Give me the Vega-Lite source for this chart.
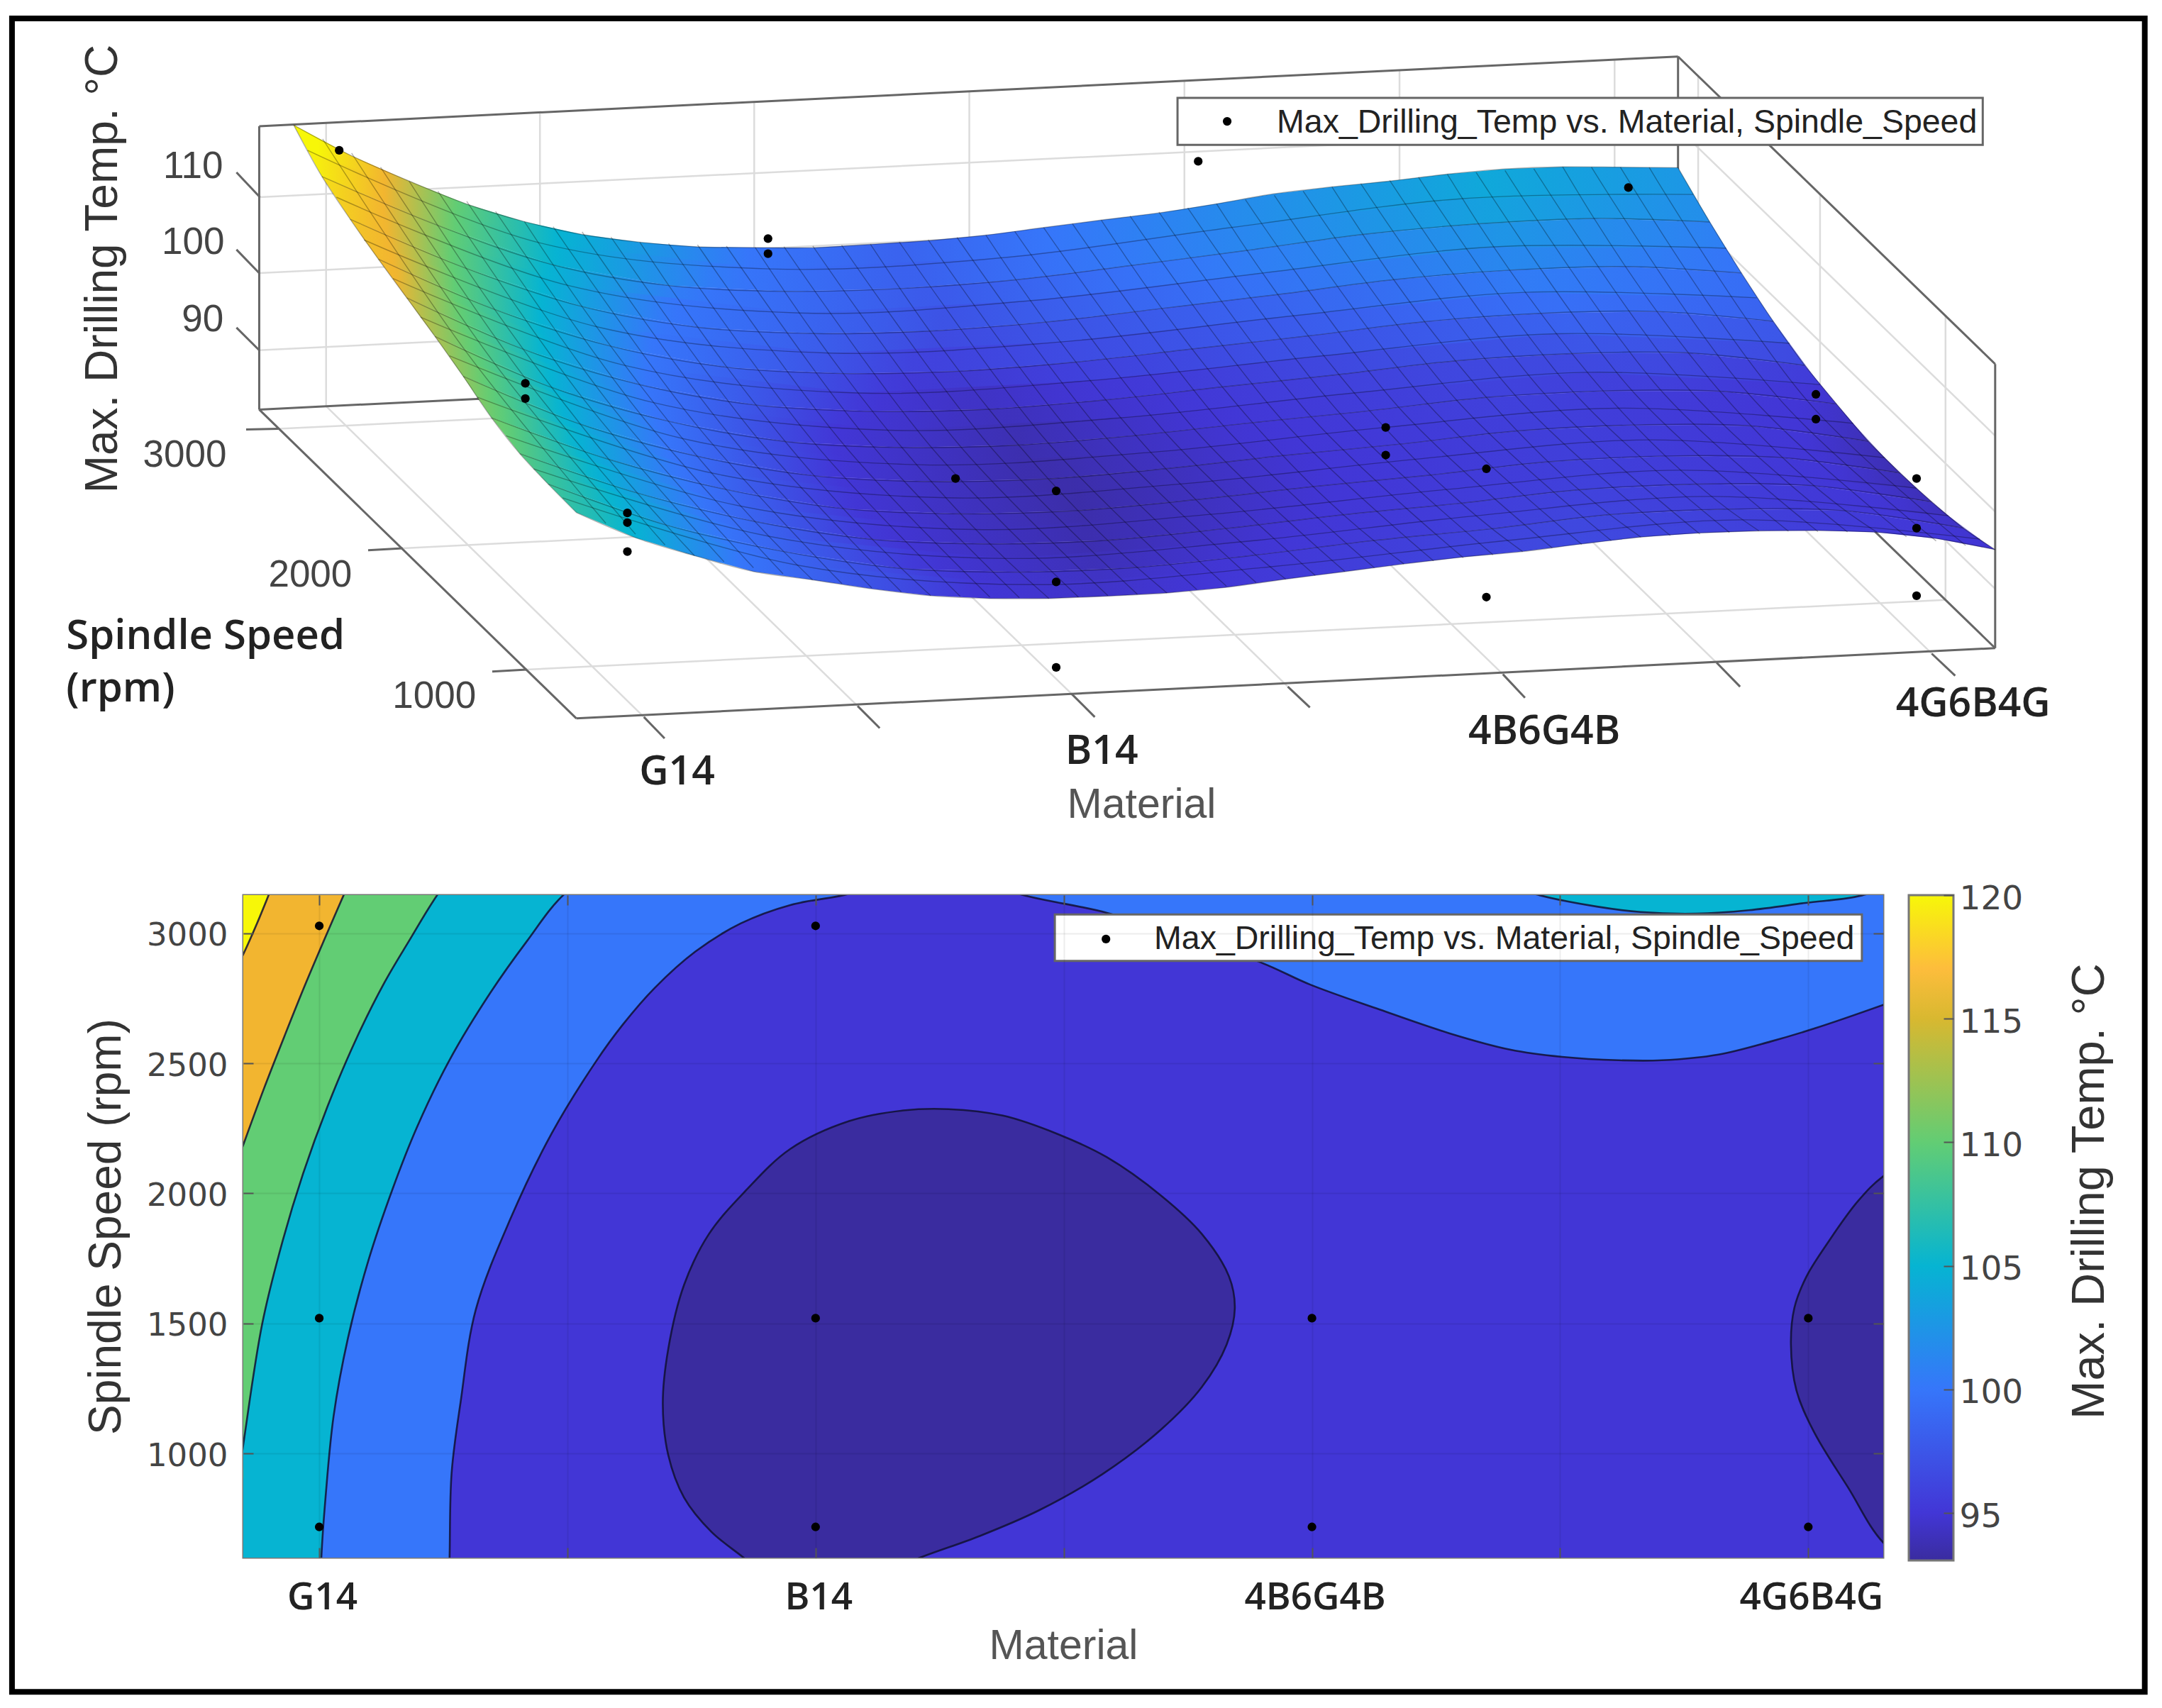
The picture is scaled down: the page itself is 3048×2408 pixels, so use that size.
{"$schema":"https://vega.github.io/schema/vega-lite/v6.json","padding":0,"background":"white","config":{"view":{"stroke":null},"font":"Liberation Sans"},"bounds":"flush","spacing":32,
"datasets":{
"grid":[
{"v":0,"k":0,"x":213,"y":90.7},{"v":0,"k":0.5,"x":255,"y":113},{"v":0,"k":1,"x":296.7,"y":131.3},{"v":0,"k":1.5,"x":338.5,"y":148},{"v":0,"k":2,"x":380.3,"y":160.7},{"v":0,"k":2.5,"x":422,"y":170},{"v":0,"k":3,"x":464,"y":175.6},{"v":0,"k":3.5,"x":506,"y":179},{"v":0,"k":4,"x":547.7,"y":179.5},{"v":0,"k":4.5,"x":589.5,"y":179.6},{"v":0,"k":5,"x":631.3,"y":177.2},{"v":0,"k":5.5,"x":673,"y":174.5},{"v":0,"k":6,"x":715,"y":170.5},{"v":0,"k":6.5,"x":757,"y":165},{"v":0,"k":7,"x":798.7,"y":159.6},{"v":0,"k":7.5,"x":840.5,"y":154.4},{"v":0,"k":8,"x":882.3,"y":147.8},{"v":0,"k":8.5,"x":924,"y":140.5},{"v":0,"k":9,"x":966,"y":135.5},{"v":0,"k":9.5,"x":1008,"y":131.3},{"v":0,"k":10,"x":1049.7,"y":126.3},{"v":0,"k":10.5,"x":1091.5,"y":122.5},{"v":0,"k":11,"x":1133.3,"y":121},{"v":0,"k":11.5,"x":1175,"y":121.2},{"v":0,"k":12,"x":1217,"y":121.6},
{"v":0.1,"k":0,"x":233.5,"y":128},{"v":0.1,"k":1,"x":317.4,"y":163.4},{"v":0.1,"k":2,"x":401.2,"y":192.1},{"v":0.1,"k":3,"x":485.1,"y":207.1},{"v":0.1,"k":4,"x":569,"y":211.3},{"v":0.1,"k":5,"x":652.8,"y":209.3},{"v":0.1,"k":6,"x":736.8,"y":202.9},{"v":0.1,"k":7,"x":820.7,"y":192.5},{"v":0.1,"k":8,"x":904.5,"y":181.6},{"v":0.1,"k":9,"x":988.4,"y":170},{"v":0.1,"k":10,"x":1072.3,"y":162.3},{"v":0.1,"k":11,"x":1156.1,"y":158.4},{"v":0.1,"k":12,"x":1240,"y":161},
{"v":0.2,"k":0,"x":254,"y":159},{"v":0.2,"k":1,"x":338.1,"y":194.6},{"v":0.2,"k":2,"x":422.1,"y":222.3},{"v":0.2,"k":3,"x":506.2,"y":237.4},{"v":0.2,"k":4,"x":590.3,"y":241.9},{"v":0.2,"k":5,"x":674.3,"y":240.1},{"v":0.2,"k":6,"x":758.5,"y":233.6},{"v":0.2,"k":7,"x":842.6,"y":223.7},{"v":0.2,"k":8,"x":926.7,"y":213.6},{"v":0.2,"k":9,"x":1010.8,"y":202.8},{"v":0.2,"k":10,"x":1094.9,"y":195.9},{"v":0.2,"k":11,"x":1178.9,"y":193.3},{"v":0.2,"k":12,"x":1263,"y":198},
{"v":0.3,"k":0,"x":274.5,"y":188},{"v":0.3,"k":1,"x":358.8,"y":224.5},{"v":0.3,"k":2,"x":443,"y":251.1},{"v":0.3,"k":3,"x":527.3,"y":266.4},{"v":0.3,"k":4,"x":611.6,"y":270.9},{"v":0.3,"k":5,"x":695.8,"y":269.2},{"v":0.3,"k":6,"x":780.3,"y":262.6},{"v":0.3,"k":7,"x":864.6,"y":253.1},{"v":0.3,"k":8,"x":948.9,"y":243.6},{"v":0.3,"k":9,"x":1033.2,"y":233.3},{"v":0.3,"k":10,"x":1117.5,"y":227.2},{"v":0.3,"k":11,"x":1201.7,"y":225.9},{"v":0.3,"k":12,"x":1286,"y":233},
{"v":0.4,"k":0,"x":295,"y":216},{"v":0.4,"k":1,"x":379.5,"y":253.3},{"v":0.4,"k":2,"x":463.9,"y":278.9},{"v":0.4,"k":3,"x":548.4,"y":293.8},{"v":0.4,"k":4,"x":632.9,"y":298.4},{"v":0.4,"k":5,"x":717.3,"y":296.8},{"v":0.4,"k":6,"x":802,"y":290},{"v":0.4,"k":7,"x":886.5,"y":280.6},{"v":0.4,"k":8,"x":971.1,"y":271.6},{"v":0.4,"k":9,"x":1055.6,"y":261.7},{"v":0.4,"k":10,"x":1140.1,"y":256.4},{"v":0.4,"k":11,"x":1224.5,"y":255.9},{"v":0.4,"k":12,"x":1309,"y":265},
{"v":0.5,"k":0,"x":315.5,"y":244},{"v":0.5,"k":1,"x":400.2,"y":281},{"v":0.5,"k":2,"x":484.8,"y":305.5},{"v":0.5,"k":3,"x":569.5,"y":320.2},{"v":0.5,"k":4,"x":654.2,"y":324.6},{"v":0.5,"k":5,"x":738.8,"y":322.8},{"v":0.5,"k":6,"x":823.8,"y":315.8},{"v":0.5,"k":7,"x":908.5,"y":306.5},{"v":0.5,"k":8,"x":993.3,"y":297.9},{"v":0.5,"k":9,"x":1078,"y":288.2},{"v":0.5,"k":10,"x":1162.7,"y":283.5},{"v":0.5,"k":11,"x":1247.3,"y":283.7},{"v":0.5,"k":12,"x":1332,"y":293},
{"v":0.6,"k":0,"x":336,"y":273},{"v":0.6,"k":1,"x":420.9,"y":307.6},{"v":0.6,"k":2,"x":505.7,"y":330.9},{"v":0.6,"k":3,"x":590.6,"y":345.1},{"v":0.6,"k":4,"x":675.5,"y":349.3},{"v":0.6,"k":5,"x":760.3,"y":347.3},{"v":0.6,"k":6,"x":845.5,"y":339.9},{"v":0.6,"k":7,"x":930.4,"y":330.4},{"v":0.6,"k":8,"x":1015.5,"y":322.1},{"v":0.6,"k":9,"x":1100.4,"y":312.5},{"v":0.6,"k":10,"x":1185.3,"y":308.2},{"v":0.6,"k":11,"x":1270.1,"y":308.9},{"v":0.6,"k":12,"x":1355,"y":320},
{"v":0.7,"k":0,"x":356.5,"y":303},{"v":0.7,"k":1,"x":441.6,"y":333.2},{"v":0.7,"k":2,"x":526.6,"y":355},{"v":0.7,"k":3,"x":611.7,"y":368.9},{"v":0.7,"k":4,"x":696.8,"y":372.7},{"v":0.7,"k":5,"x":781.8,"y":370.3},{"v":0.7,"k":6,"x":867.3,"y":362.4},{"v":0.7,"k":7,"x":952.4,"y":352.9},{"v":0.7,"k":8,"x":1037.7,"y":344.5},{"v":0.7,"k":9,"x":1122.8,"y":334.9},{"v":0.7,"k":10,"x":1207.9,"y":330.7},{"v":0.7,"k":11,"x":1292.9,"y":331.9},{"v":0.7,"k":12,"x":1378,"y":343},
{"v":0.8,"k":0,"x":377,"y":329},{"v":0.8,"k":1,"x":462.3,"y":357.6},{"v":0.8,"k":2,"x":547.5,"y":378.2},{"v":0.8,"k":3,"x":632.8,"y":391.2},{"v":0.8,"k":4,"x":718.1,"y":394.5},{"v":0.8,"k":5,"x":803.3,"y":391.8},{"v":0.8,"k":6,"x":889,"y":383.3},{"v":0.8,"k":7,"x":974.3,"y":373.3},{"v":0.8,"k":8,"x":1059.9,"y":364.9},{"v":0.8,"k":9,"x":1145.2,"y":355.2},{"v":0.8,"k":10,"x":1230.5,"y":351.1},{"v":0.8,"k":11,"x":1315.7,"y":352.3},{"v":0.8,"k":12,"x":1401,"y":364},
{"v":0.9,"k":0,"x":397.5,"y":351},{"v":0.9,"k":1,"x":483,"y":380.7},{"v":0.9,"k":2,"x":568.4,"y":400},{"v":0.9,"k":3,"x":653.9,"y":412.3},{"v":0.9,"k":4,"x":739.4,"y":414.9},{"v":0.9,"k":5,"x":824.8,"y":411.5},{"v":0.9,"k":6,"x":910.8,"y":402.5},{"v":0.9,"k":7,"x":996.3,"y":392},{"v":0.9,"k":8,"x":1082.1,"y":383.4},{"v":0.9,"k":9,"x":1167.6,"y":373.2},{"v":0.9,"k":10,"x":1253.1,"y":369.2},{"v":0.9,"k":11,"x":1338.5,"y":370.4},{"v":0.9,"k":12,"x":1424,"y":383},
{"v":1,"k":0,"x":418,"y":371.7},{"v":1,"k":0.5,"x":461,"y":390},{"v":1,"k":1,"x":503.7,"y":403},{"v":1,"k":1.5,"x":546.5,"y":414.5},{"v":1,"k":2,"x":589.3,"y":420.5},{"v":1,"k":2.5,"x":632,"y":427},{"v":1,"k":3,"x":675,"y":432},{"v":1,"k":3.5,"x":718,"y":434},{"v":1,"k":4,"x":760.7,"y":434},{"v":1,"k":4.5,"x":803.5,"y":432.3},{"v":1,"k":5,"x":846.3,"y":430},{"v":1,"k":5.5,"x":889,"y":426},{"v":1,"k":6,"x":932.5,"y":420},{"v":1,"k":6.5,"x":975,"y":414.6},{"v":1,"k":7,"x":1018.2,"y":409},{"v":1,"k":7.5,"x":1061,"y":404},{"v":1,"k":8,"x":1104.3,"y":400},{"v":1,"k":8.5,"x":1147,"y":394.5},{"v":1,"k":9,"x":1190,"y":389.5},{"v":1,"k":9.5,"x":1233,"y":386.5},{"v":1,"k":10,"x":1275.7,"y":385},{"v":1,"k":10.5,"x":1318.5,"y":384.8},{"v":1,"k":11,"x":1361.3,"y":386},{"v":1,"k":11.5,"x":1404,"y":390.5},{"v":1,"k":12,"x":1447,"y":398.6}],
"meshRows":[
{"r":0.05,"x":223,"y":109},{"r":0.05,"x":391,"y":176},{"r":0.05,"x":558,"y":195},{"r":0.05,"x":726,"y":187},{"r":0.05,"x":893,"y":165},{"r":0.05,"x":1061,"y":144},{"r":0.05,"x":1228,"y":141},
{"r":0.15,"x":244,"y":143},{"r":0.15,"x":412,"y":207},{"r":0.15,"x":580,"y":227},{"r":0.15,"x":748,"y":218},{"r":0.15,"x":916,"y":198},{"r":0.15,"x":1084,"y":179},{"r":0.15,"x":1252,"y":180},
{"r":0.25,"x":264,"y":174},{"r":0.25,"x":433,"y":237},{"r":0.25,"x":601,"y":256},{"r":0.25,"x":769,"y":248},{"r":0.25,"x":938,"y":229},{"r":0.25,"x":1106,"y":212},{"r":0.25,"x":1274,"y":216},
{"r":0.35,"x":285,"y":202},{"r":0.35,"x":453,"y":265},{"r":0.35,"x":622,"y":285},{"r":0.35,"x":791,"y":276},{"r":0.35,"x":960,"y":258},{"r":0.35,"x":1129,"y":242},{"r":0.35,"x":1298,"y":249},
{"r":0.45,"x":305,"y":230},{"r":0.45,"x":474,"y":292},{"r":0.45,"x":644,"y":312},{"r":0.45,"x":813,"y":303},{"r":0.45,"x":982,"y":285},{"r":0.45,"x":1151,"y":270},{"r":0.45,"x":1320,"y":279},
{"r":0.55,"x":326,"y":258},{"r":0.55,"x":495,"y":318},{"r":0.55,"x":665,"y":337},{"r":0.55,"x":835,"y":328},{"r":0.55,"x":1004,"y":310},{"r":0.55,"x":1174,"y":296},{"r":0.55,"x":1344,"y":307},
{"r":0.65,"x":346,"y":288},{"r":0.65,"x":516,"y":343},{"r":0.65,"x":686,"y":361},{"r":0.65,"x":856,"y":351},{"r":0.65,"x":1027,"y":333},{"r":0.65,"x":1197,"y":319},{"r":0.65,"x":1367,"y":332},
{"r":0.75,"x":367,"y":316},{"r":0.75,"x":537,"y":367},{"r":0.75,"x":707,"y":384},{"r":0.75,"x":878,"y":373},{"r":0.75,"x":1049,"y":355},{"r":0.75,"x":1219,"y":341},{"r":0.75,"x":1390,"y":354},
{"r":0.85,"x":387,"y":340},{"r":0.85,"x":558,"y":389},{"r":0.85,"x":729,"y":405},{"r":0.85,"x":900,"y":393},{"r":0.85,"x":1071,"y":374},{"r":0.85,"x":1242,"y":360},{"r":0.85,"x":1413,"y":374},
{"r":0.95,"x":408,"y":361},{"r":0.95,"x":579,"y":410},{"r":0.95,"x":750,"y":424},{"r":0.95,"x":922,"y":411},{"r":0.95,"x":1093,"y":392},{"r":0.95,"x":1264,"y":377},{"r":0.95,"x":1436,"y":391}],
"meshCols":[
{"c":1,"x":234,"y":100.8},{"c":1,"x":336.7,"y":253.3},{"c":1,"x":439.4,"y":379.5},{"c":2,"x":255,"y":111},{"c":2,"x":357.9,"y":262.5},{"c":2,"x":460.9,"y":387.4},{"c":3,"x":276,"y":121.2},{"c":3,"x":379,"y":271.8},{"c":3,"x":482.3,"y":395.2},
{"c":4,"x":317.6,"y":138.7},{"c":4,"x":421.4,"y":287.1},{"c":4,"x":525.1,"y":407.4},{"c":5,"x":338.5,"y":146},{"c":5,"x":442.5,"y":293.3},{"c":5,"x":546.5,"y":411.8},{"c":6,"x":359.4,"y":153.4},{"c":6,"x":463.7,"y":299.4},{"c":6,"x":567.9,"y":416.1},
{"c":7,"x":401.2,"y":164.4},{"c":7,"x":506,"y":309.2},{"c":7,"x":610.7,"y":423.4},{"c":8,"x":422.2,"y":168.2},{"c":8,"x":527.2,"y":312.9},{"c":8,"x":632.2,"y":426.3},{"c":9,"x":443.1,"y":171.9},{"c":9,"x":548.3,"y":316.5},{"c":9,"x":653.6,"y":429.1},
{"c":10,"x":484.9,"y":176.6},{"c":10,"x":590.7,"y":321.3},{"c":10,"x":696.4,"y":432.5},{"c":11,"x":505.9,"y":177.6},{"c":11,"x":611.9,"y":322.4},{"c":11,"x":717.9,"y":433},{"c":12,"x":526.8,"y":178.5},{"c":12,"x":633,"y":323.5},{"c":12,"x":739.3,"y":433.5},
{"c":13,"x":568.6,"y":178.9},{"c":13,"x":675.3,"y":324.2},{"c":13,"x":782.1,"y":433},{"c":14,"x":589.5,"y":178.4},{"c":14,"x":696.5,"y":323.7},{"c":14,"x":803.5,"y":432},{"c":15,"x":610.4,"y":177.8},{"c":15,"x":717.7,"y":323.3},{"c":15,"x":824.9,"y":431},
{"c":16,"x":652.2,"y":175.5},{"c":16,"x":760,"y":321},{"c":16,"x":867.9,"y":427.5},{"c":17,"x":673.2,"y":173.9},{"c":17,"x":781.3,"y":319.3},{"c":17,"x":889.4,"y":425},{"c":18,"x":694.1,"y":172.2},{"c":18,"x":802.5,"y":317.6},{"c":18,"x":911,"y":422.5},
{"c":19,"x":735.9,"y":167.8},{"c":19,"x":845,"y":313.5},{"c":19,"x":953.9,"y":417.3},{"c":20,"x":756.9,"y":165.1},{"c":20,"x":866.2,"y":311.2},{"c":20,"x":975.4,"y":414.5},{"c":21,"x":777.8,"y":162.3},{"c":21,"x":887.3,"y":308.8},{"c":21,"x":996.8,"y":411.8},
{"c":22,"x":819.6,"y":156.7},{"c":22,"x":929.7,"y":304.4},{"c":22,"x":1039.7,"y":406.8},{"c":23,"x":840.5,"y":153.7},{"c":23,"x":950.9,"y":302.2},{"c":23,"x":1061.3,"y":404.5},{"c":24,"x":861.4,"y":150.8},{"c":24,"x":972.1,"y":300.1},{"c":24,"x":1082.8,"y":402.3},
{"c":25,"x":903.2,"y":144.7},{"c":25,"x":1014.5,"y":295.5},{"c":25,"x":1125.8,"y":397.4},{"c":26,"x":924.2,"y":141.7},{"c":26,"x":1035.7,"y":293.1},{"c":26,"x":1147.2,"y":394.8},{"c":27,"x":945.1,"y":138.6},{"c":27,"x":1056.8,"y":290.6},{"c":27,"x":1168.6,"y":392.1},
{"c":28,"x":986.9,"y":133.2},{"c":28,"x":1099.2,"y":287},{"c":28,"x":1211.4,"y":388.4},{"c":29,"x":1007.9,"y":130.9},{"c":29,"x":1120.4,"y":285.9},{"c":29,"x":1232.9,"y":387.3},{"c":30,"x":1028.8,"y":128.6},{"c":30,"x":1141.5,"y":284.7},{"c":30,"x":1254.3,"y":386.1},
{"c":31,"x":1070.6,"y":125},{"c":31,"x":1183.9,"y":283.6},{"c":31,"x":1297.1,"y":385.3},{"c":32,"x":1091.5,"y":123.7},{"c":32,"x":1205,"y":283.6},{"c":32,"x":1318.5,"y":385.5},{"c":33,"x":1112.4,"y":122.3},{"c":33,"x":1226.2,"y":283.7},{"c":33,"x":1339.9,"y":385.8},
{"c":34,"x":1154.2,"y":121.2},{"c":34,"x":1268.5,"y":286},{"c":34,"x":1382.7,"y":389.2},{"c":35,"x":1175.2,"y":121.3},{"c":35,"x":1289.7,"y":288.4},{"c":35,"x":1404.2,"y":392.3},{"c":36,"x":1196.1,"y":121.5},{"c":36,"x":1310.8,"y":290.7},{"c":36,"x":1425.6,"y":395.5}],
"contours":[
{"id":"a","level":95,"c":1,"m":0,"s":0},{"id":"a","level":95,"c":1,"m":5,"s":0},{"id":"a","level":95,"c":1,"m":5,"s":4000},{"id":"a","level":95,"c":1,"m":0,"s":4000},
{"id":"b","level":100,"c":1,"m":0.5,"s":300},{"id":"b","level":100,"m":1.26,"s":400},{"id":"b","level":100,"m":1.2626,"s":600},{"id":"b","level":100,"m":1.2667,"s":925},{"id":"b","level":100,"m":1.285,"s":1200},{"id":"b","level":100,"m":1.3153,"s":1552},{"id":"b","level":100,"m":1.3847,"s":1900},{"id":"b","level":100,"m":1.4681,"s":2230},{"id":"b","level":100,"m":1.5574,"s":2507},{"id":"b","level":100,"m":1.612,"s":2650},{"id":"b","level":100,"m":1.6758,"s":2790},{"id":"b","level":100,"m":1.7578,"s":2930},{"id":"b","level":100,"m":1.849,"s":3038},{"id":"b","level":100,"m":1.9491,"s":3109},{"id":"b","level":100,"m":2.0585,"s":3148},{"id":"b","level":100,"m":2.2,"s":3220},{"id":"b","level":100,"c":1,"m":0.5,"s":3400},
{"id":"c","level":100,"m":2.25,"s":3240},{"id":"c","level":100,"m":2.423,"s":3145},{"id":"c","level":100,"m":2.587,"s":3079},{"id":"c","level":100,"m":2.74,"s":2985},{"id":"c","level":100,"m":2.896,"s":2889},{"id":"c","level":100,"m":2.9965,"s":2803},{"id":"c","level":100,"m":3.1365,"s":2707},{"id":"c","level":100,"m":3.2765,"s":2616},{"id":"c","level":100,"m":3.399,"s":2553},{"id":"c","level":100,"m":3.504,"s":2525},{"id":"c","level":100,"m":3.618,"s":2512},{"id":"c","level":100,"m":3.705,"s":2512},{"id":"c","level":100,"m":3.819,"s":2534},{"id":"c","level":100,"m":3.924,"s":2584},{"id":"c","level":100,"m":4.012,"s":2634},{"id":"c","level":100,"m":4.151,"s":2725},{"id":"c","level":100,"m":4.3,"s":2830},{"id":"c","level":100,"c":1,"m":4.5,"s":3400},{"id":"c","level":100,"c":1,"m":2.25,"s":3400},
{"id":"d","level":105,"c":1,"m":0.5,"s":300},{"id":"d","level":105,"m":1.002,"s":400},{"id":"d","level":105,"m":1.0043,"s":600},{"id":"d","level":105,"m":1.0125,"s":826},{"id":"d","level":105,"m":1.0289,"s":1143},{"id":"d","level":105,"m":1.0576,"s":1441},{"id":"d","level":105,"m":1.0986,"s":1739},{"id":"d","level":105,"m":1.1478,"s":2017},{"id":"d","level":105,"m":1.197,"s":2255},{"id":"d","level":105,"m":1.2626,"s":2513},{"id":"d","level":105,"m":1.3446,"s":2771},{"id":"d","level":105,"m":1.4184,"s":2970},{"id":"d","level":105,"m":1.4922,"s":3148},{"id":"d","level":105,"m":1.6,"s":3290},{"id":"d","level":105,"c":1,"m":0.5,"s":3400},
{"id":"e","level":110,"c":1,"m":0.5,"s":500},{"id":"e","level":110,"m":0.83,"s":800},{"id":"e","level":110,"m":0.8485,"s":1054},{"id":"e","level":110,"m":0.8854,"s":1501},{"id":"e","level":110,"m":0.9264,"s":1818},{"id":"e","level":110,"m":0.9674,"s":2076},{"id":"e","level":110,"m":1.0166,"s":2334},{"id":"e","level":110,"m":1.074,"s":2592},{"id":"e","level":110,"m":1.1314,"s":2811},{"id":"e","level":110,"m":1.1806,"s":2970},{"id":"e","level":110,"m":1.238,"s":3148},{"id":"e","level":110,"m":1.3,"s":3300},{"id":"e","level":110,"c":1,"m":0.5,"s":3400},
{"id":"f","level":115,"c":1,"m":0.5,"s":1800},{"id":"f","level":115,"m":0.81,"s":1990},{"id":"f","level":115,"m":0.8485,"s":2195},{"id":"f","level":115,"m":0.89,"s":2410},{"id":"f","level":115,"m":0.93,"s":2605},{"id":"f","level":115,"m":0.97,"s":2795},{"id":"f","level":115,"m":1.01,"s":2975},{"id":"f","level":115,"m":1.0494,"s":3148},{"id":"f","level":115,"m":1.09,"s":3320},{"id":"f","level":115,"c":1,"m":0.5,"s":3400},
{"id":"g","level":120,"c":1,"m":0.5,"s":2500},{"id":"g","level":120,"m":0.82,"s":2820},{"id":"g","level":120,"m":0.847,"s":2920},{"id":"g","level":120,"m":0.875,"s":3040},{"id":"g","level":120,"m":0.898,"s":3147},{"id":"g","level":120,"m":0.93,"s":3300},{"id":"g","level":120,"c":1,"m":0.5,"s":3400},
{"id":"h","level":105,"m":3.3,"s":3240},{"id":"h","level":105,"m":3.46,"s":3146},{"id":"h","level":105,"m":3.574,"s":3103},{"id":"h","level":105,"m":3.662,"s":3082},{"id":"h","level":105,"m":3.775,"s":3076},{"id":"h","level":105,"m":3.88,"s":3089},{"id":"h","level":105,"m":3.994,"s":3117},{"id":"h","level":105,"m":4.108,"s":3146},{"id":"h","level":105,"m":4.25,"s":3240},
{"id":"i","level":93,"m":1.92,"s":500},{"id":"i","level":93,"m":1.8535,"s":601},{"id":"i","level":93,"m":1.7897,"s":699},{"id":"i","level":93,"m":1.735,"s":830},{"id":"i","level":93,"m":1.7032,"s":993},{"id":"i","level":93,"m":1.6922,"s":1190},{"id":"i","level":93,"m":1.7032,"s":1402},{"id":"i","level":93,"m":1.735,"s":1648},{"id":"i","level":93,"m":1.7852,"s":1844},{"id":"i","level":93,"m":1.858,"s":2008},{"id":"i","level":93,"m":1.9491,"s":2171},{"id":"i","level":93,"m":2.0676,"s":2278},{"id":"i","level":93,"m":2.1769,"s":2319},{"id":"i","level":93,"m":2.268,"s":2324},{"id":"i","level":93,"m":2.3773,"s":2299},{"id":"i","level":93,"m":2.4866,"s":2229},{"id":"i","level":93,"m":2.5868,"s":2139},{"id":"i","level":93,"m":2.6962,"s":1991},{"id":"i","level":93,"m":2.7781,"s":1844},{"id":"i","level":93,"m":2.8328,"s":1681},{"id":"i","level":93,"m":2.8446,"s":1558},{"id":"i","level":93,"m":2.8282,"s":1419},{"id":"i","level":93,"m":2.7781,"s":1255},{"id":"i","level":93,"m":2.6962,"s":1092},{"id":"i","level":93,"m":2.5778,"s":920},{"id":"i","level":93,"m":2.4502,"s":781},{"id":"i","level":93,"m":2.3318,"s":683},{"id":"i","level":93,"m":2.2133,"s":601},{"id":"i","level":93,"m":2.08,"s":500},
{"id":"j","level":93,"m":4.25,"s":2170},{"id":"j","level":93,"m":4.151,"s":2066},{"id":"j","level":93,"m":4.1,"s":1970},{"id":"j","level":93,"m":4.042,"s":1818},{"id":"j","level":93,"m":3.996,"s":1679},{"id":"j","level":93,"m":3.972,"s":1560},{"id":"j","level":93,"m":3.965,"s":1421},{"id":"j","level":93,"m":3.976,"s":1243},{"id":"j","level":93,"m":4.011,"s":1084},{"id":"j","level":93,"m":4.081,"s":866},{"id":"j","level":93,"m":4.151,"s":657},{"id":"j","level":93,"m":4.25,"s":520}]
},
"vconcat":[
{"width":3048,"height":1230,
"encoding":{"x":{"field":"x","type":"quantitative","axis":null,"scale":{"domain":[0,1568],"nice":false,"zero":false}},"y":{"field":"y","type":"quantitative","axis":null,"scale":{"domain":[632.7,0],"nice":false,"zero":false}}},
"layer":[
{"data":{"values":[
{"x":236.5,"y":89.1,"x2":236.5,"y2":294.6},{"x":391.6,"y":81.5,"x2":391.6,"y2":287.1},{"x":547,"y":73.9,"x2":547,"y2":279.6},{"x":703,"y":66.2,"x2":703,"y2":272},{"x":859,"y":58.6,"x2":859,"y2":264.4},{"x":1015,"y":50.9,"x2":1015,"y2":256.8},{"x":1171,"y":43.2,"x2":1171,"y2":249.2},
{"x":188,"y":143,"x2":1217,"y2":93},{"x":188,"y":198,"x2":1217,"y2":148},{"x":188,"y":254,"x2":1217,"y2":204},
{"x":1231.6,"y":55,"x2":1231.6,"y2":261},{"x":1320,"y":141,"x2":1320,"y2":347},{"x":1411,"y":229,"x2":1411,"y2":435},
{"x":1217,"y":93,"x2":1447,"y2":316},{"x":1217,"y":148,"x2":1447,"y2":371},{"x":1217,"y":204,"x2":1447,"y2":427},
{"x":236.5,"y":294.6,"x2":467,"y2":520},{"x":391.6,"y":287.1,"x2":622,"y2":512},{"x":547,"y":279.6,"x2":777,"y2":503},{"x":703,"y":272,"x2":934,"y2":498},{"x":859,"y":264.4,"x2":1090,"y2":489},{"x":1015,"y":256.8,"x2":1245,"y2":480.6},{"x":1171,"y":249.2,"x2":1401,"y2":474},
{"x":202,"y":311,"x2":1231.6,"y2":261},{"x":292,"y":397.6,"x2":1320,"y2":347},{"x":382,"y":485.6,"x2":1411,"y2":435}]},
"mark":{"type":"rule","stroke":"#dcdcdc","strokeWidth":2.5},"encoding":{"x2":{"field":"x2"},"y2":{"field":"y2"}}},
{"data":{"values":[
{"x":188,"y":91.5,"x2":1217,"y2":41},{"x":188,"y":91.5,"x2":188,"y2":297},{"x":188,"y":297,"x2":1217,"y2":247},{"x":1217,"y":41,"x2":1217,"y2":247},{"x":1217,"y":41,"x2":1447,"y2":264},{"x":1447,"y":264,"x2":1447,"y2":470},{"x":1447,"y":470,"x2":418,"y2":521},{"x":188,"y":297,"x2":418,"y2":521},{"x":1217,"y":247,"x2":1447,"y2":470},
{"x":171.5,"y":125,"x2":188.5,"y2":143},{"x":171.5,"y":181,"x2":188,"y2":198},{"x":171.5,"y":237.6,"x2":188,"y2":254},
{"x":178.5,"y":311.5,"x2":202,"y2":311},{"x":267,"y":399,"x2":292,"y2":397.6},{"x":357,"y":487,"x2":382,"y2":485.6},
{"x":467,"y":520,"x2":482,"y2":535.5},{"x":622,"y":512,"x2":638,"y2":528},{"x":777,"y":503,"x2":794,"y2":520},{"x":934,"y":498,"x2":950,"y2":513},{"x":1090,"y":489,"x2":1106,"y2":506},{"x":1245,"y":480.6,"x2":1262,"y2":498},{"x":1401,"y":474,"x2":1418,"y2":490}]},
"mark":{"type":"rule","stroke":"#666666","strokeWidth":3},"encoding":{"x2":{"field":"x2"},"y2":{"field":"y2"}}},
{"data":{"name":"grid"},"transform":[{"filter":"datum.v==0||datum.v==0.1"},{"calculate":"datum.v==0?datum.k:100-datum.k","as":"o"}],"mark":{"type":"line","stroke":null,"fill":{"gradient":"linear","x1":0,"y1":0,"x2":1,"y2":0,"stops":[{"offset":0,"color":"#f7f708"},{"offset":0.0168,"color":"#f7f708"},{"offset":0.0643,"color":"#f2b530"},{"offset":0.1147,"color":"#62cd74"},{"offset":0.1859,"color":"#06b4d2"},{"offset":0.3208,"color":"#3676fa"},{"offset":0.4261,"color":"#3a63ef"},{"offset":0.5329,"color":"#3676fa"},{"offset":0.8414,"color":"#10a8da"},{"offset":1,"color":"#1e95e6"}]}},"encoding":{"order":{"field":"o"}}},
{"data":{"name":"grid"},"transform":[{"filter":"datum.v==0.1||datum.v==0.2"},{"calculate":"datum.v==0.1?datum.k:100-datum.k","as":"o"}],"mark":{"type":"line","stroke":null,"fill":{"gradient":"linear","x1":0,"y1":0,"x2":1,"y2":0,"stops":[{"offset":0,"color":"#f5dd18"},{"offset":0.0435,"color":"#f2b530"},{"offset":0.0907,"color":"#62cd74"},{"offset":0.1562,"color":"#06b4d2"},{"offset":0.2502,"color":"#3676fa"},{"offset":0.441,"color":"#3c56e8"},{"offset":0.6278,"color":"#3676fa"},{"offset":0.8414,"color":"#238fea"},{"offset":1,"color":"#3578f9"}]}},"encoding":{"order":{"field":"o"}}},
{"data":{"name":"grid"},"transform":[{"filter":"datum.v==0.2||datum.v==0.3"},{"calculate":"datum.v==0.2?datum.k:100-datum.k","as":"o"}],"mark":{"type":"line","stroke":null,"fill":{"gradient":"linear","x1":0,"y1":0,"x2":1,"y2":0,"stops":[{"offset":0,"color":"#f3c626"},{"offset":0.0287,"color":"#f2b530"},{"offset":0.072,"color":"#62cd74"},{"offset":0.1328,"color":"#06b4d2"},{"offset":0.2135,"color":"#3676fa"},{"offset":0.4113,"color":"#4045de"},{"offset":0.6486,"color":"#3b5cec"},{"offset":0.8414,"color":"#3676fa"},{"offset":1,"color":"#3869f3"}]}},"encoding":{"order":{"field":"o"}}},
{"data":{"name":"grid"},"transform":[{"filter":"datum.v==0.3||datum.v==0.4"},{"calculate":"datum.v==0.3?datum.k:100-datum.k","as":"o"}],"mark":{"type":"line","stroke":null,"fill":{"gradient":"linear","x1":0,"y1":0,"x2":1,"y2":0,"stops":[{"offset":0,"color":"#f2bc2c"},{"offset":0.0139,"color":"#f2b530"},{"offset":0.0554,"color":"#62cd74"},{"offset":0.1138,"color":"#06b4d2"},{"offset":0.188,"color":"#3676fa"},{"offset":0.3532,"color":"#4236d6"},{"offset":0.4113,"color":"#4034c8"},{"offset":0.4757,"color":"#4236d6"},{"offset":0.7079,"color":"#3d50e4"},{"offset":0.8414,"color":"#3b5cec"},{"offset":1,"color":"#3d50e4"}]}},"encoding":{"order":{"field":"o"}}},
{"data":{"name":"grid"},"transform":[{"filter":"datum.v==0.4||datum.v==0.5"},{"calculate":"datum.v==0.4?datum.k:100-datum.k","as":"o"}],"mark":{"type":"line","stroke":null,"fill":{"gradient":"linear","x1":0,"y1":0,"x2":1,"y2":0,"stops":[{"offset":0,"color":"#d5ba3e"},{"offset":0.042,"color":"#62cd74"},{"offset":0.0984,"color":"#06b4d2"},{"offset":0.1675,"color":"#3676fa"},{"offset":0.3016,"color":"#4236d6"},{"offset":0.4261,"color":"#3d30b5"},{"offset":0.5507,"color":"#4236d6"},{"offset":0.7376,"color":"#4043dd"},{"offset":0.8859,"color":"#4043dd"},{"offset":0.9778,"color":"#4236d6"},{"offset":1,"color":"#4135d0"}]}},"encoding":{"order":{"field":"o"}}},
{"data":{"name":"grid"},"transform":[{"filter":"datum.v==0.5||datum.v==0.6"},{"calculate":"datum.v==0.5?datum.k:100-datum.k","as":"o"}],"mark":{"type":"line","stroke":null,"fill":{"gradient":"linear","x1":0,"y1":0,"x2":1,"y2":0,"stops":[{"offset":0,"color":"#b6bf4d"},{"offset":0.0308,"color":"#62cd74"},{"offset":0.0847,"color":"#06b4d2"},{"offset":0.1583,"color":"#3676fa"},{"offset":0.279,"color":"#4236d6"},{"offset":0.4113,"color":"#3c2ead"},{"offset":0.5893,"color":"#4236d6"},{"offset":0.7672,"color":"#4040db"},{"offset":0.9505,"color":"#4236d6"},{"offset":1,"color":"#3d30b8"}]}},"encoding":{"order":{"field":"o"}}},
{"data":{"name":"grid"},"transform":[{"filter":"datum.v==0.6||datum.v==0.7"},{"calculate":"datum.v==0.6?datum.k:100-datum.k","as":"o"}],"mark":{"type":"line","stroke":null,"fill":{"gradient":"linear","x1":0,"y1":0,"x2":1,"y2":0,"stops":[{"offset":0,"color":"#99c45a"},{"offset":0.021,"color":"#62cd74"},{"offset":0.0744,"color":"#06b4d2"},{"offset":0.1444,"color":"#3676fa"},{"offset":0.266,"color":"#4236d6"},{"offset":0.4261,"color":"#3b2da7"},{"offset":0.6011,"color":"#4236d6"},{"offset":0.7672,"color":"#403fda"},{"offset":0.9357,"color":"#4236d6"},{"offset":1,"color":"#3c2ead"}]}},"encoding":{"order":{"field":"o"}}},
{"data":{"name":"grid"},"transform":[{"filter":"datum.v==0.7||datum.v==0.8"},{"calculate":"datum.v==0.7?datum.k:100-datum.k","as":"o"}],"mark":{"type":"line","stroke":null,"fill":{"gradient":"linear","x1":0,"y1":0,"x2":1,"y2":0,"stops":[{"offset":0,"color":"#7cc968"},{"offset":0.0147,"color":"#62cd74"},{"offset":0.0666,"color":"#06b4d2"},{"offset":0.1408,"color":"#3676fa"},{"offset":0.2612,"color":"#4236d6"},{"offset":0.4113,"color":"#3c2ead"},{"offset":0.5854,"color":"#4236d6"},{"offset":0.7672,"color":"#4040db"},{"offset":0.9381,"color":"#4236d6"},{"offset":1,"color":"#3c2ead"}]}},"encoding":{"order":{"field":"o"}}},
{"data":{"name":"grid"},"transform":[{"filter":"datum.v==0.8||datum.v==0.9"},{"calculate":"datum.v==0.8?datum.k:100-datum.k","as":"o"}],"mark":{"type":"line","stroke":null,"fill":{"gradient":"linear","x1":0,"y1":0,"x2":1,"y2":0,"stops":[{"offset":0,"color":"#57ca7f"},{"offset":0.0616,"color":"#06b4d2"},{"offset":0.134,"color":"#3676fa"},{"offset":0.2689,"color":"#4236d6"},{"offset":0.3965,"color":"#3d2fb2"},{"offset":0.5329,"color":"#4236d6"},{"offset":0.7376,"color":"#4043dd"},{"offset":0.9582,"color":"#4236d6"},{"offset":1,"color":"#3e31bb"}]}},"encoding":{"order":{"field":"o"}}},
{"data":{"name":"grid"},"transform":[{"filter":"datum.v==0.9||datum.v==1"},{"calculate":"datum.v==0.9?datum.k:100-datum.k","as":"o"}],"mark":{"type":"line","stroke":null,"fill":{"gradient":"linear","x1":0,"y1":0,"x2":1,"y2":0,"stops":[{"offset":0,"color":"#41c496"},{"offset":0.0578,"color":"#06b4d2"},{"offset":0.1332,"color":"#3676fa"},{"offset":0.2947,"color":"#4236d6"},{"offset":0.3816,"color":"#4034c8"},{"offset":0.4543,"color":"#4236d6"},{"offset":0.7079,"color":"#3f4ae0"},{"offset":0.9828,"color":"#4236d6"},{"offset":1,"color":"#4135d0"}]}},"encoding":{"order":{"field":"o"}}},
{"data":{"name":"meshRows"},"transform":[{"filter":"datum.r==0.05||datum.r==0.15"},{"calculate":"datum.r==0.05?datum.x:9999-datum.x","as":"o"}],"mark":{"type":"line","stroke":null,"fillOpacity":0.5,"fill":{"gradient":"linear","x1":0,"y1":0,"x2":1,"y2":0,"stops":[{"offset":0,"color":"#f6eb10"},{"offset":0.0539,"color":"#f2b530"},{"offset":0.1027,"color":"#62cd74"},{"offset":0.171,"color":"#06b4d2"},{"offset":0.2855,"color":"#3676fa"},{"offset":0.4335,"color":"#3b5cec"},{"offset":0.5803,"color":"#3676fa"},{"offset":0.8414,"color":"#1a9be2"},{"offset":1,"color":"#2a86f0"}]}},"encoding":{"order":{"field":"o"}}},
{"data":{"name":"meshRows"},"transform":[{"filter":"datum.r==0.15||datum.r==0.25"},{"calculate":"datum.r==0.15?datum.x:9999-datum.x","as":"o"}],"mark":{"type":"line","stroke":null,"fillOpacity":0.5,"fill":{"gradient":"linear","x1":0,"y1":0,"x2":1,"y2":0,"stops":[{"offset":0,"color":"#f4cf20"},{"offset":0.0361,"color":"#f2b530"},{"offset":0.0814,"color":"#62cd74"},{"offset":0.1445,"color":"#06b4d2"},{"offset":0.2319,"color":"#3676fa"},{"offset":0.426,"color":"#3d4fe3"},{"offset":0.6382,"color":"#3869f3"},{"offset":0.8414,"color":"#2c82f2"},{"offset":1,"color":"#3770f7"}]}},"encoding":{"order":{"field":"o"}}},
{"data":{"name":"meshRows"},"transform":[{"filter":"datum.r==0.25||datum.r==0.35"},{"calculate":"datum.r==0.25?datum.x:9999-datum.x","as":"o"}],"mark":{"type":"line","stroke":null,"fillOpacity":0.5,"fill":{"gradient":"linear","x1":0,"y1":0,"x2":1,"y2":0,"stops":[{"offset":0,"color":"#f3c129"},{"offset":0.0213,"color":"#f2b530"},{"offset":0.0637,"color":"#62cd74"},{"offset":0.1233,"color":"#06b4d2"},{"offset":0.2008,"color":"#3676fa"},{"offset":0.3822,"color":"#413ddb"},{"offset":0.65,"color":"#3b58ea"},{"offset":0.8414,"color":"#3869f3"},{"offset":1,"color":"#3b5cec"}]}},"encoding":{"order":{"field":"o"}}},
{"data":{"name":"meshRows"},"transform":[{"filter":"datum.r==0.35||datum.r==0.45"},{"calculate":"datum.r==0.35?datum.x:9999-datum.x","as":"o"}],"mark":{"type":"line","stroke":null,"fillOpacity":0.5,"fill":{"gradient":"linear","x1":0,"y1":0,"x2":1,"y2":0,"stops":[{"offset":0,"color":"#ebb633"},{"offset":0.0487,"color":"#62cd74"},{"offset":0.1061,"color":"#06b4d2"},{"offset":0.1778,"color":"#3676fa"},{"offset":0.3274,"color":"#4236d6"},{"offset":0.4187,"color":"#3f32c1"},{"offset":0.5132,"color":"#4236d6"},{"offset":0.7228,"color":"#3f4ae0"},{"offset":0.8637,"color":"#3d50e4"},{"offset":1,"color":"#4042dc"}]}},"encoding":{"order":{"field":"o"}}},
{"data":{"name":"meshRows"},"transform":[{"filter":"datum.r==0.45||datum.r==0.55"},{"calculate":"datum.r==0.45?datum.x:9999-datum.x","as":"o"}],"mark":{"type":"line","stroke":null,"fillOpacity":0.5,"fill":{"gradient":"linear","x1":0,"y1":0,"x2":1,"y2":0,"stops":[{"offset":0,"color":"#c5bc45"},{"offset":0.0364,"color":"#62cd74"},{"offset":0.0916,"color":"#06b4d2"},{"offset":0.1629,"color":"#3676fa"},{"offset":0.2903,"color":"#4236d6"},{"offset":0.4187,"color":"#3c2fb0"},{"offset":0.57,"color":"#4236d6"},{"offset":0.7524,"color":"#4042dc"},{"offset":0.968,"color":"#4236d6"},{"offset":1,"color":"#3f33c5"}]}},"encoding":{"order":{"field":"o"}}},
{"data":{"name":"meshRows"},"transform":[{"filter":"datum.r==0.55||datum.r==0.65"},{"calculate":"datum.r==0.55?datum.x:9999-datum.x","as":"o"}],"mark":{"type":"line","stroke":null,"fillOpacity":0.5,"fill":{"gradient":"linear","x1":0,"y1":0,"x2":1,"y2":0,"stops":[{"offset":0,"color":"#a7c153"},{"offset":0.0259,"color":"#62cd74"},{"offset":0.0796,"color":"#06b4d2"},{"offset":0.1514,"color":"#3676fa"},{"offset":0.2725,"color":"#4236d6"},{"offset":0.4187,"color":"#3c2eaa"},{"offset":0.5952,"color":"#4236d6"},{"offset":0.7672,"color":"#403fda"},{"offset":0.9431,"color":"#4236d6"},{"offset":1,"color":"#3d2fb2"}]}},"encoding":{"order":{"field":"o"}}},
{"data":{"name":"meshRows"},"transform":[{"filter":"datum.r==0.65||datum.r==0.75"},{"calculate":"datum.r==0.65?datum.x:9999-datum.x","as":"o"}],"mark":{"type":"line","stroke":null,"fillOpacity":0.5,"fill":{"gradient":"linear","x1":0,"y1":0,"x2":1,"y2":0,"stops":[{"offset":0,"color":"#8ac661"},{"offset":0.0179,"color":"#62cd74"},{"offset":0.0705,"color":"#06b4d2"},{"offset":0.1426,"color":"#3676fa"},{"offset":0.2636,"color":"#4236d6"},{"offset":0.4187,"color":"#3c2eaa"},{"offset":0.5933,"color":"#4236d6"},{"offset":0.7672,"color":"#403fda"},{"offset":0.9369,"color":"#4236d6"},{"offset":1,"color":"#3c2ead"}]}},"encoding":{"order":{"field":"o"}}},
{"data":{"name":"meshRows"},"transform":[{"filter":"datum.r==0.75||datum.r==0.85"},{"calculate":"datum.r==0.75?datum.x:9999-datum.x","as":"o"}],"mark":{"type":"line","stroke":null,"fillOpacity":0.5,"fill":{"gradient":"linear","x1":0,"y1":0,"x2":1,"y2":0,"stops":[{"offset":0,"color":"#66cc72"},{"offset":0.0641,"color":"#06b4d2"},{"offset":0.1374,"color":"#3676fa"},{"offset":0.265,"color":"#4236d6"},{"offset":0.4039,"color":"#3c2eb0"},{"offset":0.5592,"color":"#4236d6"},{"offset":0.7524,"color":"#4042dc"},{"offset":0.9482,"color":"#4236d6"},{"offset":1,"color":"#3d2fb3"}]}},"encoding":{"order":{"field":"o"}}},
{"data":{"name":"meshRows"},"transform":[{"filter":"datum.r==0.85||datum.r==0.95"},{"calculate":"datum.r==0.85?datum.x:9999-datum.x","as":"o"}],"mark":{"type":"line","stroke":null,"fillOpacity":0.5,"fill":{"gradient":"linear","x1":0,"y1":0,"x2":1,"y2":0,"stops":[{"offset":0,"color":"#4ac78b"},{"offset":0.0597,"color":"#06b4d2"},{"offset":0.1336,"color":"#3676fa"},{"offset":0.2818,"color":"#4236d6"},{"offset":0.389,"color":"#3e32be"},{"offset":0.4936,"color":"#4236d6"},{"offset":0.7228,"color":"#3f46de"},{"offset":0.9705,"color":"#4236d6"},{"offset":1,"color":"#3f33c6"}]}},"encoding":{"order":{"field":"o"}}},
{"data":{"name":"grid"},"mark":{"type":"line","interpolate":"catmull-rom","stroke":"#000000","strokeWidth":1.4,"strokeOpacity":0.3},"encoding":{"detail":{"field":"v"},"order":{"field":"k"}}},
{"data":{"name":"grid"},"transform":[{"filter":"datum.k%1==0"}],"mark":{"type":"line","interpolate":"catmull-rom","stroke":"#000000","strokeWidth":1.4,"strokeOpacity":0.3},"encoding":{"detail":{"field":"k"},"order":{"field":"v"}}},
{"data":{"name":"meshRows"},"mark":{"type":"line","interpolate":"catmull-rom","stroke":"#000000","strokeWidth":1.4,"strokeOpacity":0.3},"encoding":{"detail":{"field":"r"}}},
{"data":{"name":"meshCols"},"mark":{"type":"line","interpolate":"catmull-rom","stroke":"#000000","strokeWidth":1.4,"strokeOpacity":0.3},"encoding":{"detail":{"field":"c"},"order":{"field":"y"}}},
{"data":{"values":[{"x":246,"y":109},{"x":557,"y":173},{"x":557,"y":184},{"x":869,"y":117},{"x":1181,"y":136},{"x":381,"y":278},{"x":381,"y":289},{"x":455,"y":372},{"x":455,"y":379},{"x":455,"y":400},{"x":693,"y":347},{"x":766,"y":356},{"x":766,"y":422},{"x":766,"y":484},{"x":1005,"y":310},{"x":1005,"y":330},{"x":1078,"y":340},{"x":1078,"y":433},{"x":1317,"y":286},{"x":1317,"y":304},{"x":1390,"y":347},{"x":1390,"y":383},{"x":1390,"y":432}]},"mark":{"type":"point","filled":true,"color":"#000000","size":150,"opacity":1}},
{"data":{"values":[{"x":854,"y":71,"x2":1438,"y2":105}]},"mark":{"type":"rect","fill":"#ffffff","stroke":"#666666","strokeWidth":3},"encoding":{"x2":{"field":"x2"},"y2":{"field":"y2"}}},
{"data":{"values":[{"x":890,"y":88}]},"mark":{"type":"point","filled":true,"color":"#000000","size":150,"opacity":1}},
{"data":{"values":[{"x":926,"y":89,"t":"Max_Drilling_Temp vs. Material, Spindle_Speed"}]},"mark":{"type":"text","align":"left","baseline":"middle","fontSize":46.5,"font":"Liberation Sans","color":"#222222"},"encoding":{"text":{"field":"t"}}},
{"data":{"values":[{"x":140,"y":121,"t":"110"},{"x":140,"y":176,"t":"100"},{"x":147,"y":232,"t":"90"},{"x":134,"y":330,"t":"3000"},{"x":225,"y":417,"t":"2000"},{"x":315,"y":505,"t":"1000"}]},"mark":{"type":"text","align":"center","baseline":"middle","fontSize":53,"font":"Liberation Sans","color":"#444444"},"encoding":{"text":{"field":"t"}}},
{"data":{"values":[{"x":491,"y":560,"t":"G14"},{"x":799,"y":545,"t":"B14"},{"x":1120,"y":531,"t":"4B6G4B"},{"x":1431,"y":511,"t":"4G6B4G"}]},"mark":{"type":"text","align":"center","baseline":"middle","fontSize":57,"font":"Open Sans","fontWeight":600,"color":"#222222"},"encoding":{"text":{"field":"t"}}},
{"data":{"values":[{"x":48,"y":462,"t":"Spindle Speed"},{"x":48,"y":500,"t":"(rpm)"}]},"mark":{"type":"text","align":"left","baseline":"middle","fontSize":58,"font":"Open Sans","fontWeight":600,"color":"#222222"},"encoding":{"text":{"field":"t"}}},
{"data":{"values":[{"x":828,"y":584,"t":"Material"}]},"mark":{"type":"text","align":"center","baseline":"middle","fontSize":59,"font":"Liberation Sans","color":"#555555"},"encoding":{"text":{"field":"t"}}},
{"data":{"values":[{"x":75,"y":195,"t":"Max. Drilling Temp. °C"}]},"mark":{"type":"text","align":"center","baseline":"middle","angle":270,"fontSize":64,"font":"Liberation Sans","color":"#333333"},"encoding":{"text":{"field":"t"}}},
{"data":{"values":[{"x":8.7,"y":13.4,"x2":1555.5,"y2":1227}]},"mark":{"type":"rect","fill":null,"stroke":"#000000","strokeWidth":8},"encoding":{"x2":{"field":"x2"},"y2":{"field":"y2"}}}
]},
{"bounds":"flush","spacing":36,"hconcat":[
{"width":307,"height":934,"data":{"values":[{"a":0}]},"mark":{"type":"point","opacity":0},"encoding":{}},
{"width":2312,"height":934,"view":{"stroke":"#777777","strokeWidth":3},"resolve":{"axis":{"x":"independent","y":"independent"}},
"layer":[
{"data":{"name":"contours"},"mark":{"type":"line","interpolate":"catmull-rom","stroke":null,"clip":true},"encoding":{
"x":{"field":"m","type":"quantitative","scale":{"domain":[0.847,4.151],"nice":false,"zero":false},"axis":{"title":"Material","values":[1,1.5,2,2.5,3,3.5,4],"labelExpr":"datum.value==1?'G14':datum.value==2?'B14':datum.value==3?'4B6G4B':datum.value==4?'4G6B4G':''","labelFont":"Open Sans","labelFontWeight":600,"labelFontSize":53,"labelLimit":600,"labelColor":"#222222","labelPadding":44,"labelOverlap":false,"labelFlush":false,"labelBound":false,"labelOffset":4,"tickSize":-14,"tickColor":"#555555","tickWidth":2,"domain":false,"grid":true,"gridColor":"#000000","gridOpacity":0.07,"gridWidth":2,"titleFont":"Liberation Sans","titleFontSize":59,"titleFontWeight":"normal","titleColor":"#555555","titlePadding":12,"zindex":1}},
"y":{"field":"s","type":"quantitative","scale":{"domain":[599,3147],"nice":false,"zero":false},"axis":{"title":"Spindle Speed (rpm)","values":[1000,1500,2000,2500,3000],"format":"d","labelFont":"DejaVu Sans","labelFontSize":45,"labelColor":"#444444","labelPadding":36,"labelOffset":3,"labelOverlap":false,"labelBound":false,"labelFlush":false,"tickSize":-14,"tickColor":"#555555","tickWidth":2,"domain":false,"grid":true,"gridColor":"#000000","gridOpacity":0.07,"gridWidth":2,"titleFont":"Liberation Sans","titleFontSize":64,"titleFontWeight":"normal","titleColor":"#333333","titlePadding":24,"zindex":1}},
"fill":{"field":"level","type":"ordinal","scale":{"domain":[93,95,100,105,110,115,120],"range":["#3a2c9f","#4236d6","#3676fa","#06b4d2","#62cd74","#f2b530","#f7f708"]},"legend":null},
"detail":{"field":"id"},"order":{"value":null}}},
{"data":{"name":"contours"},"transform":[{"filter":"datum.c!==1"}],"mark":{"type":"line","interpolate":"catmull-rom","stroke":"#111133","strokeWidth":2.6,"strokeOpacity":0.85,"clip":true},"encoding":{"x":{"field":"m","type":"quantitative","axis":null},"y":{"field":"s","type":"quantitative","axis":null},"detail":{"field":"id"},"order":{"value":null}}},
{"data":{"values":[{"m":1,"s":3029},{"m":1,"s":1520},{"m":1,"s":717},{"m":2,"s":3029},{"m":2,"s":1520},{"m":2,"s":717},{"m":3,"s":3029},{"m":3,"s":1520},{"m":3,"s":717},{"m":4,"s":3029},{"m":4,"s":1520},{"m":4,"s":717}]},"mark":{"type":"point","filled":true,"color":"#000000","size":150,"opacity":1},"encoding":{
"x":{"field":"m","type":"quantitative","axis":{"orient":"top","values":[1,1.5,2,2.5,3,3.5,4],"labels":false,"title":null,"tickSize":-14,"tickColor":"#555555","tickWidth":2,"domain":false,"grid":false,"zindex":1}},
"y":{"field":"s","type":"quantitative","axis":{"orient":"right","values":[1000,1500,2000,2500,3000],"labels":false,"title":null,"tickSize":-14,"tickColor":"#555555","tickWidth":2,"domain":false,"grid":false,"zindex":1}}}},
{"data":{"values":[{"m":2.482,"m2":4.108,"s":3073,"s2":2894}]},"mark":{"type":"rect","fill":"#ffffff","stroke":"#666666","strokeWidth":3},"encoding":{"x":{"field":"m","type":"quantitative","axis":null},"x2":{"field":"m2"},"y":{"field":"s","type":"quantitative","axis":null},"y2":{"field":"s2"}}},
{"data":{"values":[{"m":2.585,"s":2978}]},"mark":{"type":"point","filled":true,"color":"#000000","size":150,"opacity":1},"encoding":{"x":{"field":"m","type":"quantitative","axis":null},"y":{"field":"s","type":"quantitative","axis":null}}},
{"data":{"values":[{"m":2.682,"s":2978,"t":"Max_Drilling_Temp vs. Material, Spindle_Speed"}]},"mark":{"type":"text","align":"left","baseline":"middle","fontSize":46.5,"font":"Liberation Sans","color":"#222222"},"encoding":{"x":{"field":"m","type":"quantitative","axis":null},"y":{"field":"s","type":"quantitative","axis":null},"text":{"field":"t"}}}
]},
{"width":63,"height":938,"data":{"values":[{"low":93.08,"high":120}]},"mark":{"type":"rect","stroke":"#777777","strokeWidth":3,"fill":{"gradient":"linear","x1":0,"y1":1,"x2":0,"y2":0,"stops":[{"offset":0,"color":"#3a2c9f"},{"offset":0.0713,"color":"#4236d6"},{"offset":0.257,"color":"#3676fa"},{"offset":0.443,"color":"#06b4d2"},{"offset":0.6285,"color":"#62cd74"},{"offset":0.814,"color":"#d8b830"},{"offset":0.89,"color":"#fdbd3c"},{"offset":1,"color":"#f7f708"}]}},
"encoding":{"y":{"field":"low","type":"quantitative","scale":{"domain":[93.08,120],"nice":false,"zero":false},"axis":{"orient":"right","values":[95,100,105,110,115,120],"title":"Max. Drilling Temp. °C","titleFont":"Liberation Sans","titleFontSize":65,"titleFontWeight":"normal","titleColor":"#333333","titleAngle":270,"titleX":191,"titleY":417,"titleAlign":"center","titleBaseline":"middle","labelFont":"DejaVu Sans","labelFontSize":47,"labelColor":"#444444","labelPadding":22,"labelOffset":5,"labelOverlap":false,"labelBound":false,"labelFlush":false,"tickSize":-14,"tickColor":"#555555","tickWidth":2,"domain":false,"grid":false,"zindex":1}},"y2":{"field":"high"}}}
]}
]}
